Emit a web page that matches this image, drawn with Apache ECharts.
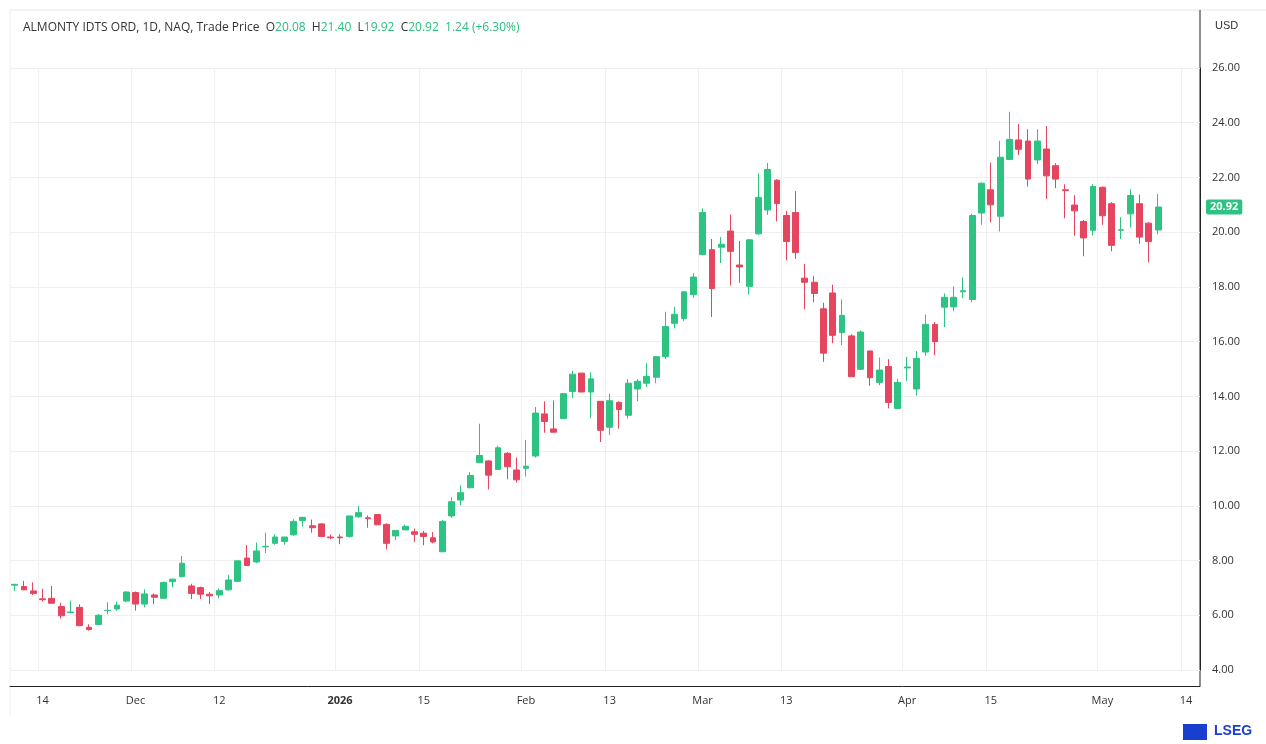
<!DOCTYPE html>
<html>
<head>
<meta charset="utf-8">
<script src="https://cdn.jsdelivr.net/npm/echarts@6/dist/echarts.min.js"></script>
<style>
  html, body { margin: 0; padding: 0; background: #fff; }
  #main { width: 1266px; height: 744px; }
</style>
</head>
<body>
<div id="main"></div>
<script>
// 交易日 (Nov 11 2025 - May 11 2026), 后面留几个空位
var holidays = ['2025-11-27', '2025-12-25', '2026-01-01', '2026-01-19', '2026-02-16', '2026-04-03'];
var dates = [];
(function () {
  var d = new Date(Date.UTC(2025, 10, 11));
  var end = new Date(Date.UTC(2026, 4, 15));
  while (d <= end) {
    var s = d.toISOString().slice(0, 10);
    var wd = d.getUTCDay();
    if (wd !== 0 && wd !== 6 && holidays.indexOf(s) < 0) dates.push(s);
    d.setUTCDate(d.getUTCDate() + 1);
  }
})();

// x轴标签 (index -> text)
var tickIdx = [3, 13, 22, 35, 44, 55, 64, 74, 83, 96, 105, 117, 126];
var tickText = ['14', 'Dec', '12', '2026', '15', 'Feb', '13', 'Mar', '13', 'Apr', '15', 'May', '14'];

var yTicks = [4, 6, 8, 10, 12, 14, 16, 18, 20, 22, 24, 26];

// [open, close, low, high]
var ohlc = [
  [7.10, 7.13, 6.89, 7.15], [7.05, 6.93, 6.93, 7.26], [6.89, 6.80, 6.74, 7.20], [6.60, 6.57, 6.50, 6.97],
  [6.62, 6.44, 6.44, 7.07], [6.32, 5.98, 5.88, 6.46], [6.10, 6.12, 6.08, 6.54], [6.29, 5.62, 5.60, 6.40],
  [5.56, 5.48, 5.44, 5.67], [5.66, 6.00, 5.65, 6.04], [6.17, 6.18, 6.04, 6.48], [6.23, 6.37, 6.17, 6.50],
  [6.52, 6.85, 6.48, 6.88], [6.83, 6.41, 6.17, 6.87], [6.41, 6.78, 6.29, 6.95], [6.74, 6.66, 6.41, 6.80],
  [6.62, 7.20, 6.59, 7.23], [7.23, 7.32, 7.02, 7.34], [7.41, 7.90, 7.39, 8.17], [7.07, 6.80, 6.59, 7.15],
  [7.01, 6.77, 6.59, 7.05], [6.77, 6.71, 6.41, 6.85], [6.74, 6.90, 6.62, 6.98], [6.93, 7.29, 6.90, 7.48],
  [7.24, 7.99, 7.22, 7.99], [8.09, 7.82, 7.82, 8.57], [7.95, 8.35, 7.90, 8.66], [8.50, 8.52, 8.27, 9.02],
  [8.63, 8.86, 8.58, 8.96], [8.70, 8.86, 8.58, 8.86], [8.94, 9.43, 8.90, 9.51], [9.46, 9.58, 9.24, 9.59],
  [9.27, 9.20, 9.02, 9.50], [9.34, 8.88, 8.88, 9.37], [8.86, 8.83, 8.78, 8.95], [8.86, 8.83, 8.60, 8.96],
  [8.88, 9.63, 8.84, 9.63], [9.60, 9.75, 9.56, 10.00], [9.56, 9.53, 9.20, 9.65], [9.68, 9.31, 9.29, 9.70],
  [9.32, 8.63, 8.41, 9.36], [8.90, 9.10, 8.75, 9.10], [9.12, 9.25, 9.12, 9.31], [9.05, 8.96, 8.68, 9.17],
  [9.00, 8.88, 8.56, 9.08], [8.83, 8.68, 8.63, 9.04], [8.32, 9.43, 8.32, 9.48], [9.63, 10.15, 9.56, 10.31],
  [10.21, 10.48, 10.02, 10.75], [10.66, 11.11, 10.64, 11.23], [11.58, 11.84, 11.57, 13.00], [11.64, 11.12, 10.60, 11.66],
  [11.33, 12.12, 11.33, 12.20], [11.92, 11.43, 10.97, 11.96], [11.31, 10.95, 10.85, 11.76], [11.37, 11.45, 11.07, 12.41],
  [11.82, 13.39, 11.76, 13.61], [13.36, 13.08, 12.67, 13.82], [12.81, 12.69, 12.69, 13.85], [13.19, 14.10, 13.19, 14.12],
  [14.18, 14.81, 13.94, 14.93], [14.85, 14.16, 14.16, 14.85], [14.16, 14.64, 13.21, 14.88], [13.82, 12.76, 12.33, 13.82],
  [12.87, 13.84, 12.59, 14.10], [13.78, 13.52, 12.82, 13.82], [13.31, 14.48, 13.19, 14.63], [14.27, 14.55, 13.82, 14.63],
  [14.48, 14.73, 14.34, 15.21], [14.70, 15.45, 14.48, 15.45], [15.45, 16.55, 15.36, 17.09], [16.67, 17.00, 16.48, 17.27],
  [16.85, 17.82, 16.75, 17.84], [17.72, 18.36, 17.60, 18.51], [19.18, 20.72, 19.18, 20.87], [19.36, 17.94, 16.90, 19.75],
  [19.45, 19.56, 18.87, 19.82], [20.04, 19.30, 18.05, 20.65], [18.80, 18.73, 18.15, 19.68], [18.02, 19.72, 17.72, 19.75],
  [19.94, 21.27, 19.90, 22.15], [20.81, 22.29, 20.63, 22.53], [21.90, 21.05, 20.39, 21.94], [20.61, 19.66, 18.97, 20.78],
  [20.72, 19.26, 19.02, 21.50], [18.32, 18.17, 17.18, 18.84], [18.17, 17.76, 17.44, 18.39], [17.20, 15.58, 15.26, 17.42],
  [17.78, 16.23, 15.94, 18.08], [16.33, 16.96, 15.87, 17.54], [16.21, 14.72, 14.72, 16.27], [14.99, 16.35, 14.97, 16.41],
  [15.66, 14.68, 14.39, 15.66], [14.51, 14.96, 14.41, 15.42], [15.09, 13.78, 13.56, 15.36], [13.56, 14.51, 13.56, 14.65],
  [15.04, 15.07, 14.57, 15.45], [14.27, 15.39, 14.03, 15.66], [15.62, 16.63, 15.48, 16.99], [16.63, 16.00, 15.50, 16.72],
  [17.26, 17.62, 16.53, 17.76], [17.27, 17.62, 17.11, 18.02], [17.82, 17.86, 17.58, 18.35], [17.54, 20.61, 17.44, 20.67],
  [20.70, 21.79, 20.27, 21.81], [21.55, 21.00, 20.36, 22.54], [20.58, 22.74, 20.03, 23.34], [22.66, 23.39, 22.66, 24.40],
  [23.37, 23.03, 22.82, 23.95], [23.33, 21.94, 21.67, 23.76], [22.64, 23.33, 22.49, 23.76], [23.04, 22.06, 21.21, 23.88],
  [22.43, 21.94, 21.61, 22.52], [21.55, 21.52, 20.51, 21.75], [20.99, 20.78, 19.87, 21.35], [20.39, 19.79, 19.12, 20.45],
  [20.07, 21.67, 19.88, 21.75], [21.64, 20.60, 20.27, 21.67], [21.04, 19.52, 19.30, 21.10], [20.07, 20.09, 19.75, 20.55],
  [20.67, 21.34, 20.17, 21.57], [21.04, 19.82, 19.58, 21.37], [20.33, 19.66, 18.90, 20.36], [20.08, 20.92, 19.92, 21.40]
];

var lastClose = 20.92;
var up = '#2dc483', down = '#e5455f';

var chart = echarts.init(document.getElementById('main'));
var isTick = function (i) { return tickIdx.indexOf(i) >= 0; };

chart.setOption({
  animation: false,
  textStyle: { fontFamily: 'Open Sans, DejaVu Sans, sans-serif' },
  title: {
    left: 18, top: 17,
    text: '{b|ALMONTY IDTS ORD, 1D, NAQ, Trade Price  O}{g|20.08}{b|  H}{g|21.40}{b|  L}{g|19.92}{b|  C}{g|20.92}{g|  1.24 (+6.30%)}',
    textStyle: {
      fontWeight: 'normal',
      rich: {
        b: { fontSize: 12, color: '#333', fontWeight: 'normal' },
        g: { fontSize: 12, color: '#2dbd7f', fontWeight: 'normal' }
      }
    }
  },
  grid: { left: 10, right: 66, top: 68, bottom: 74 },
  xAxis: {
    type: 'category',
    data: dates,
    offset: 16,
    boundaryGap: true,
    axisLine: { lineStyle: { color: '#222' } },
    axisTick: { show: false },
    axisLabel: {
      interval: function (i) { return isTick(i); },
      formatter: function (v, i) {
        var k = tickIdx.indexOf(i);
        return k < 0 ? '' : (tickText[k] === '2026' ? '{y|2026}' : tickText[k]);
      },
      color: '#333', fontSize: 11, margin: 9,
      rich: { y: { fontWeight: 'bold', fontSize: 11, color: '#333' } }
    },
    splitLine: {
      show: true,
      interval: function (i) { return isTick(i); },
      lineStyle: { color: '#efefef' }
    }
  },
  yAxis: {
    type: 'value',
    position: 'right',
    min: yTicks[0], max: yTicks[yTicks.length - 1], interval: 2,
    axisLine: { show: true, lineStyle: { color: '#222' } },
    axisTick: { show: false },
    axisLabel: { color: '#333', fontSize: 11, margin: 12, formatter: function (v) { return v.toFixed(2); } },
    splitLine: { lineStyle: { color: '#efefef' } }
  },
  series: [{
    type: 'candlestick',
    data: ohlc,
    barWidth: '68%',
    clip: false,
    itemStyle: { color: up, color0: down, borderColor: up, borderColor0: down, borderWidth: 1 },
    markLine: {
      symbol: 'none', silent: true,
      data: [{ yAxis: lastClose }],
      lineStyle: { color: 'rgba(0,0,0,0)', width: 1, type: 'solid' },
      label: {
        show: true,
        position: 'end', distance: 6,
        formatter: lastClose.toFixed(2),
        backgroundColor: up, color: '#fff', fontSize: 11, fontWeight: 'bold',
        padding: [2, 4], borderRadius: 2
      }
    }
  }],
  graphic: [
    { type: 'line', shape: { x1: 10, y1: 10, x2: 1266, y2: 10 }, style: { stroke: '#e6e6e6' } },
    { type: 'line', shape: { x1: 1200, y1: 10, x2: 1200, y2: 686 }, style: { stroke: '#222' } },
    { type: 'line', shape: { x1: 10, y1: 10, x2: 10, y2: 715 }, style: { stroke: '#eeeeee' } },
    { type: 'text', left: 1215, top: 20, style: { text: 'USD', fontSize: 11, fill: '#333' } },
    { type: 'text', left: 1214, top: 724, style: { text: 'LSEG', fontSize: 14, fontWeight: 'bold', fill: '#1a3fd0' } },
    { type: 'rect', shape: { x: 1183, y: 724, width: 24, height: 16 }, style: { fill: '#1a3fd0' } }
  ]
});
</script>
</body>
</html>
